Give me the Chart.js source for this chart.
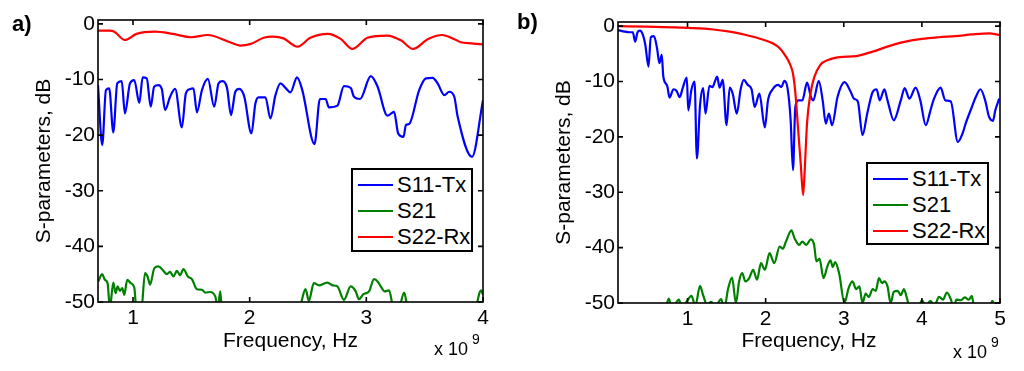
<!DOCTYPE html>
<html>
<head>
<meta charset="utf-8">
<title>S-parameters</title>
<script src="https://cdn.jsdelivr.net/npm/chart.js@4.4.1/dist/chart.umd.min.js"></script>
<style>
    html, body { margin: 0; padding: 0; background: #fff; }
    #wrap { position: relative; width: 1024px; height: 371px; overflow: hidden;
            font-family: "Liberation Sans", Arial, Helvetica, sans-serif; color: #000; }
    #wrap canvas { position: absolute; top: 0; }
    .tag { position: absolute; font-weight: bold; font-size: 22px; line-height: 22px; }
    .exp { position: absolute; font-size: 18px; line-height: 18px; white-space: nowrap; }
    .exp-pow { position: absolute; font-size: 14px; line-height: 14px; }
    .legend { position: absolute; background: #fff; border: 2px solid #000; box-sizing: border-box; padding-top: 2px; }
    .legend-row { height: 26px; display: flex; align-items: center; font-size: 22px; white-space: nowrap; }
    .legend-line { width: 35px; height: 2px; margin: 0 4px 0 5px; }
</style>
</head>
<body>
<div id="wrap">
    <canvas id="chartA" width="512" height="371" style="left:0px"></canvas>
    <canvas id="chartB" width="512" height="371" style="left:512px"></canvas>
    <div class="tag" style="left:12px; top:13px;">a)</div>
    <div class="tag" style="left:517px; top:11px;">b)</div>
    <div class="exp" style="left:434px; top:340px;">x 10</div>
    <div class="exp-pow" style="left:472px; top:332px;">9</div>
    <div class="exp" style="left:953px; top:343px;">x 10</div>
    <div class="exp-pow" style="left:991px; top:335px;">9</div>
    <div class="legend" id="legendA" style="left:351px; top:168px; width:122px; height:84px;"></div>
    <div class="legend" id="legendB" style="left:866px; top:162px; width:123px; height:83px;"></div>
</div>
<script>
"use strict";

// ---- data (frequency in GHz, level in dB) ----
const seriesNames = ['S11-Tx', 'S21', 'S22-Rx'];
const seriesColors = ['#0000ff', '#008000', '#ff0000'];

const yTicks = [-50, -40, -30, -20, -10, 0];
const xTicksA = [1, 2, 3, 4];
const xTicksB = [1, 2, 3, 4, 5];

// panel a)
const aS11Freq = [0.70, 0.736, 0.768, 0.796, 0.831, 0.865, 0.903, 0.931, 0.974, 1.011,
    1.054, 1.083, 1.118, 1.152, 1.181, 1.218, 1.247, 1.275, 1.318, 1.361,
    1.419, 1.453, 1.490, 1.518, 1.548, 1.591, 1.642, 1.696, 1.733, 1.763,
    1.806, 1.840, 1.877, 1.911, 1.954, 2.015, 2.049, 2.077, 2.135, 2.178,
    2.221, 2.264, 2.307, 2.350, 2.406, 2.451, 2.556, 2.602, 2.651, 2.679,
    2.752, 2.808, 2.866, 2.894, 2.946, 3.038, 3.095, 3.181, 3.238, 3.273,
    3.319, 3.339, 3.367, 3.453, 3.511, 3.568, 3.611, 3.668, 3.711, 3.754,
    3.783, 3.906, 4.0];
const aS11 = [-11.0, -21.8, -11.9, -11.6, -19.5, -10.7, -10.3, -16.1, -10.7, -10.1,
    -14.2, -9.6, -9.8, -14.9, -11.3, -11.0, -11.7, -15.5, -13.1, -11.7,
    -18.6, -12.5, -11.7, -11.6, -15.9, -11.9, -9.9, -14.9, -10.7, -10.3,
    -11.5, -16.4, -12.2, -11.7, -13.1, -19.7, -14.3, -13.2, -13.2, -17.0,
    -12.8, -10.7, -11.5, -12.3, -9.6, -11.9, -21.6, -13.5, -13.5, -15.0,
    -14.7, -11.2, -11.5, -13.1, -13.5, -9.4, -11.2, -16.5, -15.8, -19.7,
    -20.3, -18.2, -18.0, -11.9, -9.8, -9.7, -10.7, -12.8, -12.2, -13.1,
    -16.7, -23.9, -13.7];

const aS21Freq = [0.702, 0.736, 0.759, 0.782, 0.802, 0.831, 0.851, 0.868, 0.888, 0.908,
    0.925, 0.951, 0.980, 1.011, 1.032, 1.069, 1.103, 1.126, 1.146, 1.183,
    1.218, 1.261, 1.290, 1.318, 1.347, 1.376, 1.404, 1.432, 1.470, 1.505,
    1.548, 1.591, 1.619, 1.662, 1.705, 1.728, 1.748, 1.763, 1.9, 2.1,
    2.3, 2.436, 2.479, 2.507, 2.550, 2.593, 2.666, 2.709, 2.752, 2.808,
    2.866, 2.909, 2.937, 2.975, 3.023, 3.066, 3.100, 3.124, 3.158, 3.195,
    3.233, 3.279, 3.324, 3.353, 3.5, 3.7, 3.94, 3.969, 3.983, 4.0];
const aS21 = [-46.3, -45.0, -46.0, -46.6, -51, -46.5, -48.4, -47.2, -48.0, -47.5,
    -48.7, -46.0, -46.6, -47.4, -52, -52, -44.8, -45.5, -46.9, -43.9,
    -43.6, -44.4, -45.0, -44.6, -45.4, -44.4, -45.2, -44.1, -45.4, -45.9,
    -47.7, -47.8, -48.3, -48.2, -49.0, -51, -48.1, -52, -56, -56,
    -56, -50.5, -47.7, -49.8, -46.6, -47.0, -46.5, -47.0, -47.2, -49.6,
    -47.2, -48.1, -49.5, -48.6, -48.1, -45.9, -46.4, -47.2, -48.1, -47.9,
    -51, -51, -48.3, -51, -56, -56, -51, -48.4, -47.9, -48.7];

const aS22Freq = [0.70, 0.80, 0.84, 0.93, 1.03, 1.19, 1.34, 1.50, 1.64, 1.83,
    1.92, 2.01, 2.12, 2.20, 2.29, 2.41, 2.52, 2.67, 2.78, 2.88,
    3.01, 3.18, 3.30, 3.40, 3.53, 3.65, 3.75, 3.81, 3.90, 4.00];
const aS22 = [-1.2, -1.2, -1.4, -2.9, -1.8, -1.4, -1.8, -2.4, -2.0, -3.3,
    -3.9, -3.6, -2.5, -2.3, -2.6, -4.1, -2.5, -1.8, -2.7, -4.5,
    -2.5, -2.1, -3.0, -4.5, -2.7, -2.0, -2.7, -3.3, -3.5, -3.7];

// panel b)
const bS11Freq = [0.11, 0.20, 0.26, 0.30, 0.33, 0.36, 0.39, 0.43, 0.46, 0.50,
    0.53, 0.57, 0.61, 0.64, 0.67, 0.69, 0.74, 0.77, 0.82, 0.86,
    0.90, 0.94, 0.99, 1.01, 1.05, 1.09, 1.12, 1.16, 1.20, 1.23,
    1.28, 1.32, 1.35, 1.38, 1.41, 1.45, 1.50, 1.54, 1.58, 1.63,
    1.68, 1.72, 1.77, 1.82, 1.86, 1.92, 1.99, 2.03, 2.09, 2.16,
    2.20, 2.24, 2.28, 2.32, 2.35, 2.38, 2.42, 2.47, 2.53, 2.58,
    2.61, 2.68, 2.73, 2.77, 2.81, 2.85, 2.92, 3.01, 3.09, 3.13,
    3.18, 3.24, 3.30, 3.37, 3.42, 3.46, 3.52, 3.56, 3.64, 3.73,
    3.78, 3.84, 3.92, 3.98, 4.05, 4.11, 4.15, 4.24, 4.30, 4.37,
    4.46, 4.52, 4.56, 4.64, 4.69, 4.75, 4.81, 4.86, 4.91, 4.94,
    4.99];
const bS11 = [-0.7, -1.0, -1.1, -1.1, -2.8, -1.1, -0.8, -1.6, -3.4, -7.3,
    -2.0, -1.8, -4.0, -6.7, -5.2, -9.1, -10.8, -12.9, -11.4, -11.7,
    -12.8, -11.1, -9.3, -15.2, -11.5, -10.0, -23.9, -14.3, -11.2, -15.8,
    -10.8, -11.0, -10.0, -9.1, -11.1, -9.7, -17.9, -11.1, -12.3, -15.8,
    -11.4, -9.7, -10.6, -11.4, -14.6, -12.2, -18.3, -13.4, -11.4, -10.6,
    -11.0, -9.9, -11.2, -17.0, -26.0, -14.6, -13.4, -13.4, -10.2, -12.8,
    -13.4, -9.9, -13.4, -17.6, -15.8, -17.9, -12.8, -10.1, -11.9, -13.1,
    -13.6, -19.7, -15.8, -11.9, -11.4, -13.4, -11.4, -13.4, -17.0, -13.4,
    -11.2, -13.1, -11.1, -13.4, -17.9, -15.2, -13.3, -11.1, -13.4, -13.6,
    -20.9, -19.4, -17.6, -14.6, -12.8, -11.4, -13.4, -16.4, -17.1, -15.2,
    -13.1];

const bS21Freq = [0.11, 0.70, 0.76, 0.80, 0.89, 0.93, 1.00, 1.05, 1.10, 1.16,
    1.20, 1.25, 1.30, 1.36, 1.43, 1.47, 1.52, 1.57, 1.62, 1.66,
    1.70, 1.74, 1.79, 1.84, 1.89, 1.94, 1.99, 2.05, 2.11, 2.18,
    2.22, 2.26, 2.33, 2.37, 2.43, 2.47, 2.52, 2.58, 2.62, 2.65,
    2.69, 2.74, 2.79, 2.83, 2.86, 2.89, 2.94, 3.01, 3.06, 3.11,
    3.16, 3.20, 3.24, 3.28, 3.32, 3.37, 3.41, 3.45, 3.49, 3.52,
    3.56, 3.60, 3.64, 3.69, 3.73, 3.77, 3.81, 3.85, 3.95, 4.00,
    4.05, 4.11, 4.16, 4.22, 4.27, 4.32, 4.37, 4.41, 4.44, 4.50,
    4.55, 4.60, 4.64, 4.67, 4.85, 4.90, 4.95, 5.0];
const bS21 = [-55, -52, -49.2, -51, -49.4, -51, -49.5, -48.7, -50.5, -46.9,
    -48.6, -50.3, -49.8, -50.5, -49.3, -51, -47.4, -45.4, -50.0, -46.1,
    -44.6, -46.1, -45.5, -44.0, -45.8, -42.8, -44.0, -41.0, -42.8, -39.8,
    -40.2, -38.9, -36.9, -38.3, -39.5, -38.9, -39.5, -38.5, -39.5, -42.5,
    -42.0, -45.5, -43.4, -42.3, -43.5, -42.6, -44.6, -50.0, -47.4, -46.1,
    -47.5, -47.0, -50.0, -48.3, -48.9, -47.5, -47.8, -45.5, -46.4, -46.1,
    -47.0, -50.0, -48.0, -47.8, -48.6, -47.5, -49.2, -51, -51, -49.5,
    -50.5, -49.6, -50.5, -48.9, -49.4, -48.1, -49.3, -51, -49.4, -49.5,
    -49.0, -49.4, -48.7, -51, -52, -49.6, -51, -52];

const bS22Freq = [0.11, 0.48, 0.90, 1.33, 1.54, 1.75, 1.96, 2.09, 2.18, 2.26,
    2.31, 2.35, 2.38, 2.415, 2.45, 2.48, 2.50, 2.53, 2.57, 2.62,
    2.70, 2.80, 2.95, 3.16, 3.37, 3.58, 3.79, 4.00, 4.22, 4.43,
    4.64, 4.86, 5.0];
const bS22 = [0.0, -0.1, -0.25, -0.6, -1.0, -1.6, -2.4, -3.1, -4.0, -5.5,
    -6.8, -8.6, -12.0, -18.5, -25, -30.5, -26, -17.5, -12.5, -9.3,
    -7.0, -6.1, -5.6, -5.4, -4.6, -3.6, -2.8, -2.3, -2.0, -1.8,
    -1.5, -1.3, -1.6];

const FONT = { family: '"Liberation Sans", Arial, Helvetica, sans-serif', size: 21 };

function toPoints(xs, ys) {
    var n = Math.min(xs.length, ys.length);
    var pts = [];
    for (var i = 0; i < n; i++) {
        pts.push({ x: xs[i], y: ys[i] });
    }
    return pts;
}

// MATLAB style frame: full box with ticks pointing inwards
const boxPlugin = {
    id: 'boxPlugin',
    afterDatasetsDraw: function (chart) {
        var ctx = chart.ctx;
        var a = chart.chartArea;
        var xs = chart.scales.x;
        var ys = chart.scales.y;
        var len = 5;
        ctx.save();
        ctx.strokeStyle = '#000';
        ctx.lineWidth = 1.6;
        ctx.strokeRect(a.left, a.top, a.right - a.left, a.bottom - a.top);
        ctx.beginPath();
        xs.ticks.forEach(function (t) {
            var px = xs.getPixelForValue(t.value);
            ctx.moveTo(px, a.bottom); ctx.lineTo(px, a.bottom - len);
            ctx.moveTo(px, a.top); ctx.lineTo(px, a.top + len);
        });
        ys.ticks.forEach(function (t) {
            var py = ys.getPixelForValue(t.value);
            ctx.moveTo(a.left, py); ctx.lineTo(a.left + len, py);
            ctx.moveTo(a.right, py); ctx.lineTo(a.right - len, py);
        });
        ctx.stroke();
        ctx.restore();
    }
};

function buildLegend(el, chart) {
    chart.data.datasets.forEach(function (ds) {
        var row = document.createElement('div');
        row.className = 'legend-row';
        var line = document.createElement('span');
        line.className = 'legend-line';
        line.style.background = ds.borderColor;
        var txt = document.createElement('span');
        txt.textContent = ds.label;
        row.appendChild(line);
        row.appendChild(txt);
        el.appendChild(row);
    });
}

function makePanel(canvasId, p) {
    var ctx = document.getElementById(canvasId).getContext('2d');
    var series = [p.s11, p.s21, p.s22];
    var datasets = series.map(function (pts, i) {
        return {
            label: seriesNames[i],
            data: pts,
            borderColor: seriesColors[i],
            borderWidth: 2.2,
            pointRadius: 0,
            fill: false,
            cubicInterpolationMode: 'monotone',
            order: 3 - i   // later series drawn on top, as in the original
        };
    });

    return new Chart(ctx, {
        type: 'line',
        data: { datasets: datasets },
        plugins: [boxPlugin],
        options: {
            responsive: false,
            animation: false,
            events: [],
            layout: { padding: p.padding },
            plugins: { legend: { display: false }, tooltip: { enabled: false } },
            scales: {
                x: {
                    type: 'linear',
                    min: p.xMin,
                    max: p.xMax,
                    afterFit: function (s) { s.height = p.xHeight; },
                    afterBuildTicks: function (s) {
                        s.ticks = p.xTicks.map(function (v) { return { value: v }; });
                    },
                    grid: { display: false, drawTicks: false },
                    border: { display: false },
                    ticks: { font: FONT, color: '#000', padding: 4, maxRotation: 0, autoSkip: false },
                    title: { display: true, text: 'Frequency, Hz', font: FONT, color: '#000', padding: 0 }
                },
                y: {
                    type: 'linear',
                    min: -50,
                    max: p.yMax,
                    afterFit: function (s) { s.width = p.yWidth; },
                    afterBuildTicks: function (s) {
                        s.ticks = yTicks.map(function (v) { return { value: v }; });
                    },
                    grid: { display: false, drawTicks: false },
                    border: { display: false },
                    ticks: { font: FONT, color: '#000', padding: 3 },
                    title: { display: true, text: 'S-parameters, dB', font: FONT, color: '#000', padding: 0 }
                }
            }
        }
    });
}

const chartA = makePanel('chartA', {
    s11: toPoints(aS11Freq, aS11),
    s21: toPoints(aS21Freq, aS21),
    s22: toPoints(aS22Freq, aS22),
    xMin: 0.7, xMax: 4, xTicks: xTicksA, yMax: 0.7,
    padding: { left: 32, right: 29, top: 20, bottom: 17 },
    yWidth: 66, xHeight: 52
});

const chartB = makePanel('chartB', {
    s11: toPoints(bS11Freq, bS11),
    s21: toPoints(bS21Freq, bS21),
    s22: toPoints(bS22Freq, bS22),
    xMin: 0.11, xMax: 5, xTicks: xTicksB, yMax: 0.75,
    padding: { left: 40, right: 24, top: 22, bottom: 17 },
    yWidth: 66, xHeight: 51
});

buildLegend(document.getElementById('legendA'), chartA);
buildLegend(document.getElementById('legendB'), chartB);
</script>
</body>
</html>
